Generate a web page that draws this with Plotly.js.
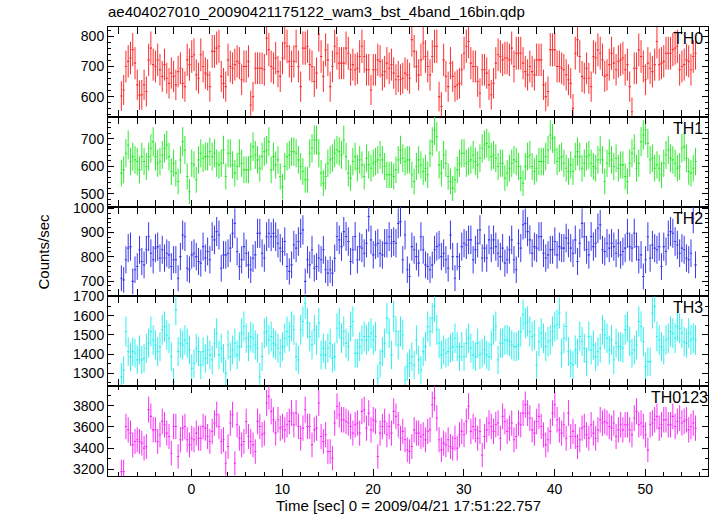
<!DOCTYPE html>
<html><head><meta charset="utf-8">
<script src="https://cdn.plot.ly/plotly-3.0.1.min.js"></script>
<style>html,body{margin:0;padding:0;background:#fff}</style>
</head><body><div id="chart" style="width:717px;height:516px"></div>
<script>
// 0.25 s bins; values listed as even-numbered bins and odd-numbered bins
const tStart = -7.725;
const binWidth = 0.25;
const panelNames = ['TH0','TH1','TH2','TH3','TH0123'];

const TH0_even = [602,700,728,711,605,639,722,706,722,667,
661,678,639,694,633,706,739,661,700,672,
750,761,667,633,700,706,711,700,717,600,
694,694,794,700,728,667,778,717,717,700,
761,767,700,678,733,755,633,767,711,711,
744,706,694,767,689,622,689,717,683,694,
678,667,661,672,
789,700,722,733,672,767,600,722,633,667,
639,689,767,711,700,611,689,639,644,739,
722,728,761,744,744,683,700,672,722,639,
617,755,700,694,672,644,744,733,661,661,
733,755,722,672,744,689,722,689,633,694,
755,700,711,683,783,711,744,744,761,689,
706,717,733];
const TH0_odd = [622,717,756,639,606,617,761,700,689,706,
644,667,683,644,722,733,672,739,678,633,
750,767,644,722,694,717,656,700,572,694,
694,689,756,694,683,728,767,700,767,633,
761,706,650,806,667,722,700,744,711,761,
689,689,733,733,689,689,722,672,711,706,
656,656,678,661,
750,672,778,700,733,767,567,667,711,633,
644,744,783,700,650,689,678,606,711,733,
728,722,700,744,711,672,683,722,722,600,
756,756,700,689,656,561,789,667,694,633,
728,744,667,706,711,717,728,706,550,694,
733,656,694,706,706,717,744,756,767,700,
722,689,744];

const TH1_even = [575,647,617,623,587,617,635,689,611,641,
677,581,575,623,659,508,605,623,629,635,
635,611,611,563,647,575,647,587,587,671,
623,635,659,587,605,563,599,641,653,623,
581,551,665,695,575,563,623,647,653,695,
575,617,593,605,629,593,617,641,599,569,
563,623,629,623,
569,599,605,593,647,731,605,641,563,520,
587,647,611,623,617,629,677,671,641,599,
611,575,611,617,557,599,641,581,617,617,
659,701,617,635,593,605,635,635,611,641,
599,623,623,611,623,629,605,563,611,665,
611,713,683,629,605,569,641,629,611,599,
671,581,593];
const TH1_odd = [587,677,635,617,635,599,665,635,617,665,
635,611,545,689,563,611,551,647,635,653,
647,605,659,647,605,599,611,587,635,641,
593,653,689,635,623,526,635,653,647,599,
551,647,695,647,539,611,629,659,641,635,
557,635,623,563,605,611,623,623,569,569,
587,659,617,623,
545,623,581,569,689,707,575,611,545,551,
611,647,617,641,605,665,683,635,629,611,
557,593,623,599,539,635,599,593,617,635,
713,659,629,611,581,581,653,593,635,611,
593,659,545,647,599,593,605,545,647,593,
689,731,623,593,593,611,659,623,593,665,
629,575,617];

const TH2_even = [712,788,842,747,829,767,883,788,842,829,
815,760,788,801,883,747,815,781,842,822,
883,904,753,808,836,938,760,842,767,794,
897,815,883,883,883,836,863,740,849,863,
911,788,829,760,788,747,747,794,870,904,
863,829,788,836,856,870,849,815,856,883,
863,938,788,747,
842,801,883,767,747,829,849,815,753,801,
801,842,849,870,829,911,836,870,870,815,
836,788,870,747,836,938,870,842,883,815,
808,829,808,836,877,836,870,856,883,808,
842,918,829,856,856,815,808,836,842,897,
788,719,883,849,829,760,822,904,863,815,
829,788,959];
const TH2_odd = [705,836,699,760,781,829,815,836,795,795,
808,788,712,890,753,808,801,774,795,788,
870,890,808,815,897,822,788,815,747,808,
897,795,897,897,856,822,760,767,836,897,
699,767,753,795,829,733,733,884,842,884,
781,884,842,815,966,808,856,808,856,856,
856,945,890,719,
829,774,829,760,767,842,801,788,890,712,
760,856,870,788,856,795,795,836,842,801,
774,829,788,856,932,904,815,836,884,795,
829,863,842,836,856,815,781,938,829,884,
856,932,822,836,842,856,822,897,836,842,
808,788,795,836,842,842,890,897,849,836,
795,815,767];

const TH3_even = [1282,1518,1387,1405,1422,1378,1457,1474,1413,1527,
1500,1387,1631,1457,1474,1422,1352,1413,1413,1422,
1370,1509,1431,1300,1387,1457,1439,1544,1439,1483,
1431,1387,1518,1492,1448,1405,1483,1492,1527,1370,
1570,1562,1448,1474,1396,1396,1457,1387,1562,1518,
1439,1570,1405,1474,1474,1509,1492,1352,1457,1509,
1597,1448,1500,1335,
1387,1474,1317,1439,1518,1649,1457,1422,1413,1439,
1439,1439,1457,1431,1387,1396,1422,1387,1527,1370,
1457,1474,1448,1439,1518,1562,1518,1500,1465,1483,
1465,1518,1553,1405,1544,1352,1422,1492,1431,1492,
1448,1413,1527,1483,1474,1457,1439,1527,1465,1422,
1570,1465,1361,1614,1492,1439,1474,1518,1483,1535,
1465,1509,1483];
const TH3_odd = [1317,1413,1413,1370,1370,1431,1518,1448,1439,1544,
1483,1256,1413,1448,1457,1326,1431,1343,1378,1396,
1457,1396,1378,1448,1422,1396,1509,1483,1492,1448,
1282,1509,1474,1457,1431,1439,1518,1544,1387,1527,
1666,1492,1527,1562,1431,1431,1378,1535,1483,1457,
1544,1405,1439,1492,1492,1474,1274,1413,1588,1396,
1518,1518,1265,1352,
1343,1370,1413,1544,1588,1527,1396,1405,1431,1483,
1387,1387,1483,1396,1457,1405,1396,1448,1544,1457,
1474,1466,1439,1448,1605,1570,1492,1343,1509,1439,
1474,1544,1614,1483,1413,1343,1405,1466,1361,1422,
1387,1431,1501,1422,1370,1439,1431,1544,1405,1448,
1544,1335,1361,1649,1474,1422,1483,1509,1544,1509,
1457,1474,1474];

const TH0123_even = [3177,3604,3541,3462,3462,3399,3763,3572,3462,3652,
3541,3351,3604,3478,3604,3430,3478,3493,3604,3509,
3557,3715,3462,3256,3636,3256,3493,3462,3509,3430,
3652,3525,3825,3746,3541,3588,3572,3652,3620,3604,
3588,3604,3430,3588,3509,3525,3367,3636,3715,3667,
3636,3541,3636,3746,3588,3572,3652,3541,3652,3604,
3746,3620,3557,3383,
3414,3541,3509,3478,3572,3873,3478,3446,3478,3399,
3399,3557,3652,3557,3572,3557,3509,3636,3557,3636,
3699,3557,3636,3509,3620,3810,3683,3541,3699,3525,
3478,3730,3667,3541,3493,3509,3509,3478,3604,3493,
3541,3572,3636,3636,3588,3509,3620,3620,3572,3683,
3620,3604,3383,3636,3699,3620,3667,3620,3604,3683,
3652,3572,3636];
const TH0123_odd = [3177,3572,3430,3478,3446,3414,3699,3572,3525,3620,
3509,3604,3320,3588,3478,3493,3541,3493,3588,3462,
3636,3604,3478,3414,3715,3620,3430,3651,3462,3367,
3604,3541,3888,3667,3667,3604,3620,3730,3730,3493,
3762,3604,3572,3825,3462,3367,3304,3794,3667,3651,
3604,3620,3541,3762,3730,3667,3320,3604,3525,3541,
3699,3493,3478,3367,
3572,3541,3525,3557,3809,3683,3383,3430,3414,3493,
3525,3525,3794,3604,3493,3335,3572,3604,3620,3493,
3651,3588,3478,3636,3730,3730,3572,3651,3604,3430,
3557,3809,3572,3620,3730,3557,3414,3588,3525,3620,
3493,3667,3651,3604,3636,3572,3572,3620,3525,3746,
3636,3525,3620,3667,3588,3667,3620,3699,3651,3636,
3667,3604,3588];

const evens = [TH0_even, TH1_even, TH2_even, TH3_even, TH0123_even];
const odds = [TH0_odd, TH1_odd, TH2_odd, TH3_odd, TH0123_odd];
const series = evens.map((ev, i) => {
  const out = [];
  for (let k = 0; k < ev.length; k++) { out.push(ev[k]); if (k < odds[i].length) out.push(odds[i][k]); }
  return out;
});

const colors = ['rgb(255,45,45)','rgb(45,235,45)','rgb(55,55,240)','rgb(45,240,240)','rgb(250,45,250)'];
const yRanges = [[533,831],[454,779],[637,1007],[1233,1701],[3136,3984]];
const yDtick = [100,100,100,100,200];
const yMinor = [20,20,20,50,100];
const labelShift = [-3,-3,-3,-3,2];
const FONT = 'Liberation Sans, Arial, Helvetica, sans-serif';

const traces = series.map((vals, i) => ({
  x: vals.map((_, m) => tStart + m * binWidth), y: vals, type: 'scatter', mode: 'markers',
  marker: {size: 0.1, color: colors[i], opacity: 0},
  error_x: {type: 'constant', value: binWidth/2, width: 0, thickness: 1.1, color: colors[i]},
  error_y: {type: 'data', array: vals.map(v => Math.sqrt(v*binWidth)/binWidth), width: 0, thickness: 1, color: colors[i]},
  xaxis: 'x', yaxis: i === 0 ? 'y' : 'y' + (i+1),
  hoverinfo: 'skip', showlegend: false
}));

const layout = {
  width: 717, height: 516,
  margin: {l: 108, r: 9, t: 27, b: 40},
  paper_bgcolor: '#fff', plot_bgcolor: '#fff',
  font: {family: FONT, size: 14, color: '#000'},
  showlegend: false,
  title: {text: 'ae404027010_20090421175122_wam3_bst_4band_16bin.qdp', font: {family: FONT, size: 15, color: '#000'},
          xref: 'paper', x: 0, xanchor: 'left', yref: 'container', y: 1 - 12/516, yanchor: 'middle'},
  xaxis: {range: [-9.2, 56.9], anchor: 'y5', ticks: 'inside', ticklen: 7, tickcolor: '#000', tickwidth: 1,
          dtick: 10, tick0: 0, showline: true, linecolor: '#000', linewidth: 1, mirror: 'allticks',
          showgrid: false, zeroline: false, tickfont: {family: FONT, size: 14, color: '#000'},
          minor: {dtick: 2, tick0: 0, ticks: 'inside', ticklen: 4, tickcolor: '#000', showgrid: false}},
  annotations: []
};
for (let i = 0; i < 5; i++) {
  const key = i === 0 ? 'yaxis' : 'yaxis' + (i+1);
  const top = 1 - 0.2*i, bot = 1 - 0.2*(i+1);
  layout[key] = {domain: [bot, top], range: yRanges[i], anchor: 'x', ticks: 'inside', ticklen: 6, tickcolor: '#000',
    dtick: yDtick[i], tick0: 0, showline: true, linecolor: '#000', linewidth: 1, mirror: 'allticks',
    showgrid: false, zeroline: false, tickfont: {family: FONT, size: 14, color: '#000'},
    minor: {dtick: yMinor[i], tick0: 0, ticks: 'inside', ticklen: 3, tickcolor: '#000', showgrid: false}};
  layout.annotations.push({text: panelNames[i], xref: 'paper', yref: 'paper', x: 1, y: top,
    xanchor: 'right', yanchor: 'top', xshift: labelShift[i], yshift: -1, showarrow: false,
    font: {family: FONT, size: 16, color: '#000'}});
}
layout.annotations.push({text: 'Counts/sec', xref: 'paper', yref: 'paper', x: (43-108)/600, y: 0.5,
  textangle: -90, showarrow: false, xanchor: 'center', yanchor: 'middle', font: {family: FONT, size: 15, color: '#000'}});
layout.annotations.push({text: 'Time [sec] 0 = 2009/04/21 17:51:22.757', xref: 'paper', yref: 'paper', x: 0.5, y: -30/449,
  showarrow: false, xanchor: 'center', yanchor: 'middle', font: {family: FONT, size: 15, color: '#000'}});

Plotly.newPlot('chart', traces, layout, {displayModeBar: false, staticPlot: true});
</script></body></html>
